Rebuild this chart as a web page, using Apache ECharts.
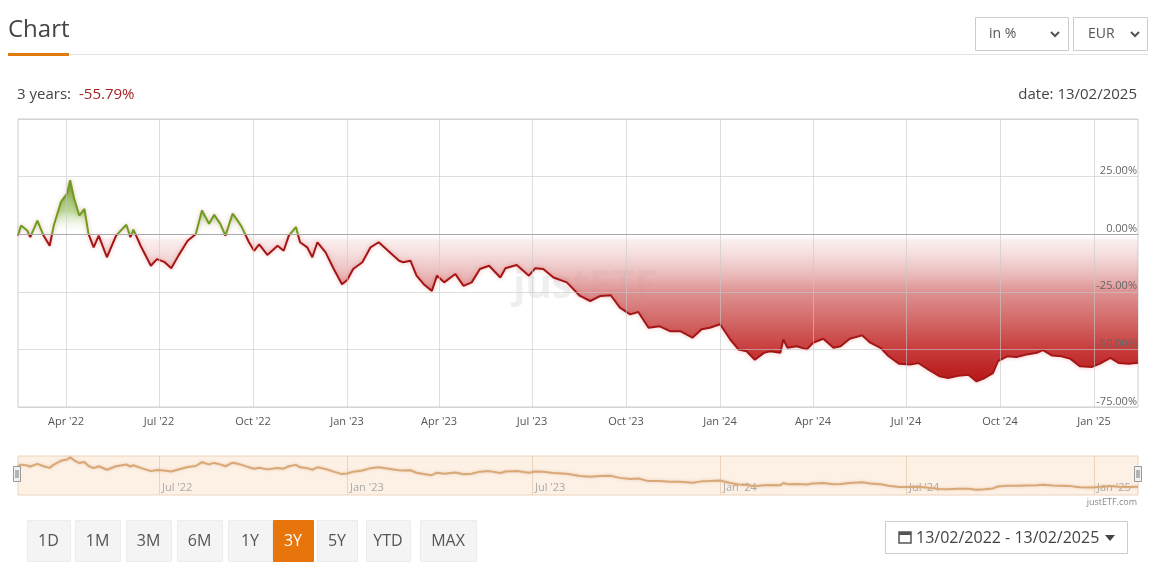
<!DOCTYPE html>
<html>
<head>
<meta charset="utf-8">
<script src="https://cdn.jsdelivr.net/npm/echarts@6/dist/echarts.min.js"></script>
<style>
html,body{margin:0;padding:0;background:#fff;}
#chart{width:1169px;height:573px;}
</style>
</head>
<body>
<div id="chart"></div>
<script>
// days since 13/02/2022 and performance in %
var days = [0,3,9,12,19,25,31,35,42,48,51,55,60,65,69,74,79,87,96,106,110,113,120,130,136,143,150,157,166,174,180,187,192,198,203,210,215,219,226,231,236,244,254,260,265,272,276,283,288,293,301,309,317,322,328,337,345,353,364,373,377,384,390,397,405,410,417,428,436,444,452,461,472,477,488,500,506,514,524,537,550,560,570,580,589,599,607,617,628,638,648,660,669,677,687,697,705,713,721,730,736,746,749,753,762,772,778,788,798,805,814,826,834,844,852,862,873,881,891,902,910,920,930,938,946,954,959,968,977,987,997,1003,1012,1021,1030,1039,1051,1060,1069,1077,1087,1096];
var perf = [-0.6,3.8,1.6,-1.3,5.9,-0.6,-5.0,3.8,14.0,17.6,23.4,15.4,8.1,11.0,0.1,-5.7,-0.6,-10.0,-0.6,4.1,-1.3,2.0,-5.0,-13.7,-10.8,-12.0,-14.8,-9.3,-2.8,0.1,10.3,4.5,8.4,4.5,-0.6,8.9,5.9,3.1,-3.5,-7.2,-4.4,-9.0,-5.0,-7.2,-0.6,3.1,-3.5,-5.7,-10.0,-3.5,-7.9,-15.1,-21.7,-20.0,-15.1,-12.2,-5.7,-3.5,-7.9,-11.5,-12.2,-11.5,-18.0,-21.7,-24.6,-18.0,-20.9,-17.3,-22.4,-20.9,-15.1,-13.7,-18.8,-14.8,-13.4,-18.0,-14.8,-15.1,-18.8,-20.9,-26.8,-29.0,-26.8,-26.5,-31.9,-34.8,-33.8,-40.6,-40.0,-42.1,-42.1,-44.9,-41.3,-40.6,-39.1,-45.7,-50.0,-50.8,-54.5,-51.5,-50.8,-51.5,-45.7,-49.3,-48.6,-50.0,-47.1,-45.4,-49.3,-48.6,-45.4,-43.9,-47.1,-49.3,-53.0,-56.2,-56.6,-55.9,-58.8,-61.7,-62.4,-61.4,-61.0,-63.9,-62.4,-60.3,-55.1,-53.0,-53.3,-52.2,-51.5,-50.3,-52.7,-53.0,-54.1,-57.3,-57.6,-55.9,-53.7,-55.9,-56.2,-55.79];
var quarterTicks = [[2022,3],[2022,6],[2022,9],[2023,0],[2023,3],[2023,6],[2023,9],[2024,0],[2024,3],[2024,6],[2024,9],[2025,0]];
var navTicks = [[2022,6],[2023,0],[2023,6],[2024,0],[2024,6],[2025,0]];
var ranges = ['1D','1M','3M','6M','1Y','3Y','5Y','YTD','MAX'];
var months = ['Jan','Feb','Mar','Apr','May','Jun','Jul','Aug','Sep','Oct','Nov','Dec'];

var DAY = 86400000;
var start = Date.UTC(2022,1,13);
var seriesData = [];
for (var i = 0; i < days.length; i++) {
	seriesData.push([start + days[i]*DAY, perf[i]]);
}
function toTime(a){ return Date.UTC(a[0],a[1],1); }
function fmtDate(v){
	var d = new Date(v);
	return months[d.getUTCMonth()] + " '" + String(d.getUTCFullYear()).slice(2);
}
var font = "'Open Sans', sans-serif";
var zeroPos = 50/125; // where 0% sits between 50% (top) and -75% (bottom)

// buttons
var btnX = [27,75,126,177,228,273,317,366,420];
var btnW = [43,45,45,45,44,40,40,44,56];
var graphics = [
	{type:'text', left:8, top:18, style:{text:'Chart', font:'400 24px '+font, fill:'#444'}},
	{type:'rect', shape:{x:69,y:54,width:1079,height:1}, style:{fill:'#e2e2e2'}},
	{type:'rect', shape:{x:8,y:53,width:61,height:3}, style:{fill:'#e07b0c'}},
	{type:'rect', shape:{x:975.5,y:17.5,width:93,height:33}, style:{fill:'#fff',stroke:'#ccc'}},
	{type:'text', x:989, y:34, style:{text:'in %', font:'14px '+font, fill:'#555', verticalAlign:'middle'}},
	{type:'polyline', shape:{points:[[1051,32],[1055,36],[1059,32]]}, style:{stroke:'#555',lineWidth:2,fill:null}},
	{type:'rect', shape:{x:1073.5,y:17.5,width:74,height:33}, style:{fill:'#fff',stroke:'#ccc'}},
	{type:'text', x:1088, y:34, style:{text:'EUR', font:'14px '+font, fill:'#555', verticalAlign:'middle'}},
	{type:'polyline', shape:{points:[[1131,32],[1135,36],[1139,32]]}, style:{stroke:'#555',lineWidth:2,fill:null}},
	{type:'text', x:17, y:95, style:{text:'3 years:', font:'15px '+font, fill:'#444', verticalAlign:'middle'}},
	{type:'text', x:79, y:95, style:{text:'-55.79%', font:'15px '+font, fill:'#a32424', verticalAlign:'middle'}},
	{type:'text', x:1137, y:95, style:{text:'date: 13/02/2025', font:'15px '+font, fill:'#444', align:'right', verticalAlign:'middle'}},
	{type:'text', x:585, y:287, z:0, style:{text:'justETF', font:'bold 40px '+font, fill:'rgba(190,190,190,0.25)', align:'center', verticalAlign:'middle'}},
	{type:'text', x:1137, y:502, style:{text:'justETF.com', font:'9px '+font, fill:'#888', align:'right', verticalAlign:'middle'}},
	{type:'rect', shape:{x:885.5,y:521.5,width:242,height:32}, style:{fill:'#fff',stroke:'#ccc'}},
	{type:'rect', shape:{x:899,y:532,width:12,height:11}, style:{fill:'none',stroke:'#555',lineWidth:1.5}},
	{type:'rect', shape:{x:899,y:532,width:12,height:3}, style:{fill:'#555'}},
	{type:'text', x:916, y:538, style:{text:'13/02/2022 - 13/02/2025', font:'16px '+font, fill:'#444', verticalAlign:'middle'}},
	{type:'polygon', shape:{points:[[1105,535],[1115,535],[1110,541]]}, style:{fill:'#444'}}
];
for (var b = 0; b < ranges.length; b++) {
	var active = ranges[b] === '3Y';
	graphics.push({type:'rect', shape:{x:btnX[b]+0.5,y:520.5,width:btnW[b],height:41}, style:{fill:active?'#e8740c':'#f4f4f4', stroke:active?'#e8740c':'#ececec'}});
	graphics.push({type:'text', x:btnX[b]+btnW[b]/2, y:541, style:{text:ranges[b], font:'16px '+font, fill:active?'#fff':'#555', align:'center', verticalAlign:'middle'}});
}
// navigator handles
[17,1138].forEach(function(hx){
	graphics.push({type:'rect', z:10, shape:{x:hx-3.5,y:466.5,width:7,height:15}, style:{fill:'#f2f2f2',stroke:'#999'}});
	graphics.push({type:'rect', z:10, shape:{x:hx-1.5,y:470,width:1,height:8}, style:{fill:'#777'}});
	graphics.push({type:'rect', z:10, shape:{x:hx+0.5,y:470,width:1,height:8}, style:{fill:'#777'}});
});

var chart = echarts.init(document.getElementById('chart'));
var option = {
	animation: false,
	textStyle: {fontFamily: font},
	graphic: graphics,
	grid: [
		{left:18, right:31, top:119, height:288, show:true, borderColor:'#cfcfcf', borderWidth:1},
		{left:18, right:31, top:456, height:39, show:true, backgroundColor:'#fdf1e6', borderColor:'#ecd3bb', borderWidth:1}
	],
	xAxis: [
		{
			type:'value', gridIndex:0, min:start, max:start+1096*DAY, z:5,
			axisLine:{lineStyle:{color:'#aaa'}},
			axisTick:{show:false, customValues:quarterTicks.map(toTime)},
			axisLabel:{customValues:quarterTicks.map(toTime), formatter:fmtDate, color:'#555', fontSize:11, margin:9},
			splitLine:{show:true, lineStyle:{color:'rgba(200,200,200,0.6)'}}
		},
		{
			type:'value', gridIndex:1, min:start, max:start+1096*DAY,
			axisLine:{show:false},
			axisTick:{show:false, customValues:navTicks.map(toTime)},
			axisLabel:{inside:true, customValues:navTicks.map(toTime), formatter:fmtDate, color:'#a9a9a9', fontSize:11, align:'left', margin:2, padding:[0,0,0,3]},
			splitLine:{show:true, lineStyle:{color:'#ecd3bb'}}
		}
	],
	yAxis: [
		{
			type:'value', gridIndex:0, position:'right', min:-75, max:50, interval:25, z:5,
			axisLine:{show:false}, axisTick:{show:false},
			axisLabel:{inside:true, verticalAlign:'bottom', margin:1, color:'#666', fontSize:11,
				formatter:function(v){ return v === 50 ? '' : v.toFixed(2)+'%'; }},
			splitLine:{lineStyle:{color:'rgba(200,200,200,0.6)'}}
		},
		{
			type:'value', gridIndex:1, min:-78, max:27,
			axisLine:{show:false}, axisTick:{show:false}, axisLabel:{show:false}, splitLine:{show:false}
		}
	],
	series: [
		{
			type:'line', xAxisIndex:0, yAxisIndex:0, data:seriesData, showSymbol:false, z:3,
			lineStyle:{
				width:2, shadowColor:'rgba(200,60,60,0.4)', shadowBlur:4,
				color:new echarts.graphic.LinearGradient(0,119,0,407,[
					{offset:0, color:'#6a9f1c'},
					{offset:zeroPos, color:'#6a9f1c'},
					{offset:zeroPos, color:'#a51515'},
					{offset:1, color:'#a51515'}
				], true)
			},
			areaStyle:{
				origin:0, opacity:1,
				color:new echarts.graphic.LinearGradient(0,119,0,407,[
					{offset:0, color:'rgba(80,140,10,1)'},
					{offset:0.22, color:'rgba(100,160,30,0.9)'},
					{offset:0.32, color:'rgba(140,190,80,0.6)'},
					{offset:zeroPos, color:'rgba(255,255,255,0)'},
					{offset:zeroPos+0.02, color:'rgba(240,200,200,0.3)'},
					{offset:0.6, color:'rgba(220,140,140,0.95)'},
					{offset:0.8, color:'rgba(200,60,60,1)'},
					{offset:0.9, color:'#b81818'},
					{offset:1, color:'#a00c0c'}
				], true)
			},
			markLine:{silent:true, symbol:'none', label:{show:false}, lineStyle:{color:'#9a9a9a', width:1, type:'solid'}, data:[{yAxis:0}]}
		},
		{
			type:'line', xAxisIndex:1, yAxisIndex:1, data:seriesData, showSymbol:false,
			lineStyle:{width:2, color:'#d8a877', shadowColor:'rgba(216,168,119,0.5)', shadowBlur:3}
		}
	]
};
chart.setOption(option);
</script>
</body>
</html>
